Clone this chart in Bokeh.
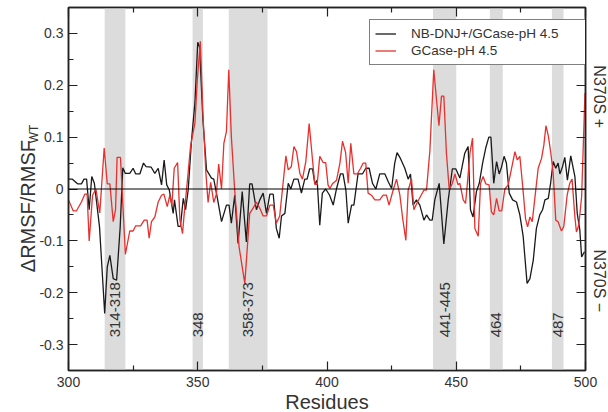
import math
from bokeh.plotting import figure
from bokeh.models import (Range1d, LinearAxis, FixedTicker, Span, BoxAnnotation,
                          Label, Legend, LegendItem)
from bokeh.core.properties import value
from bokeh.embed import file_html
from bokeh.resources import INLINE

# ---------------- data ----------------
res_black = [300, 301.5, 303.5, 305, 306, 307, 308, 309, 310, 312, 314, 315, 316, 317.3, 318.6, 320,
             321, 322, 323.7, 325, 326, 327.6, 329, 330, 332, 333.4, 334.7, 336, 337, 338, 339, 340.5,
             341, 342.4, 343.3, 344.4, 345.3, 346.3, 347.6, 348.9, 350, 350.7, 352, 353.4, 355.3, 356.2,
             357.5, 359.2, 361.1, 362.1, 363, 364.3, 365.6, 367.2, 368.8, 370.1, 371, 372.7, 374, 375.3,
             376.6, 377.9, 379.2, 380.4, 381.5, 382.4, 383.7, 385, 386, 387.2, 388.8, 390.1, 391.4, 392.3,
             393.3, 394.4, 395.3, 396.2, 397.2, 398.2, 399.5, 401, 402.4, 403.7, 405.2, 406.2, 407.3, 408.2,
             409.5, 410.4, 412, 413.7, 415, 416.3, 417.6, 418.9, 420.4, 422.4, 423.7, 425, 426.2, 427.1,
             428.4, 430.1, 431.4, 432.3, 433.3, 434.6, 435.9, 437.5, 438.5, 439.8, 440.7, 441.7, 443.4,
             445.2, 446.9, 448.5, 449.8, 451.4, 453.3, 454.6, 455.5, 456.5, 457.8, 458.9, 460.2, 461.4,
             462.6, 463.4, 464.5, 465.6, 466.6, 467.5, 468.5, 469.4, 470.5, 471.8, 473.3, 474.6, 475.9,
             477.4, 478.5, 479.8, 481, 482.3, 483.4, 484.3, 485.6, 486.5, 487.5, 488.5, 489.4, 490.1,
             491.1, 492, 493, 494.3, 495.9, 496.8, 497.8, 498.5, 499.6]
rmsf_black = [0.019, 0.019, 0.01, 0.01, 0.019, 0.019, -0.04, 0.024, 0.011, -0.073, -0.24, -0.15, -0.128,
              -0.173, -0.176, -0.073, 0.041, 0.03, 0.03, 0.04, 0.029, 0.029, 0.05, 0.043, 0.042, 0.03, 0.04,
              0.008, 0.056, 0.008, -0.002, -0.047, -0.021, -0.072, -0.072, -0.018, -0.04, -0.002, 0.095,
              0.166, 0.283, 0.274, 0.133, 0.037, 0.021, 0.019, -0.015, -0.063, -0.031, -0.031, -0.066,
              -0.012, -0.105, -0.005, -0.102, 0.01, 0.01, -0.04, -0.021, -0.008, -0.047, -0.01, -0.01,
              -0.076, -0.095, -0.052, -0.047, 0.011, 0.0, 0.019, 0.019, -0.008, 0.019, 0.019, 0.039, 0.039,
              0.01, 0.017, -0.07, -0.008, 0.0, -0.012, -0.031, 0.001, 0.029, 0.029, -0.002, -0.066, -0.031,
              -0.031, 0.029, 0.029, 0.04, 0.04, 0.011, 0.0, 0.029, 0.029, 0.014, 0.001, 0.05, 0.07, 0.059,
              0.04, 0.019, 0.029, -0.031, -0.021, -0.031, -0.06, -0.05, -0.06, -0.06, -0.021, 0.011,
              -0.106, -0.021, 0.039, 0.039, 0.021, 0.069, 0.082, -0.04, -0.054, -0.005, 0.011, 0.05, 0.079,
              0.1, 0.1, 0.011, 0.053, 0.029, 0.042, 0.063, 0.05, -0.008, -0.021, -0.025, -0.05, -0.092,
              -0.182, -0.173, -0.137, -0.076, -0.05, -0.04, -0.021, -0.018, 0.011, 0.053, 0.04, 0.05,
              0.029, 0.043, 0.061, 0.017, 0.064, 0.024, -0.047, -0.079, -0.131, -0.121]

res_red = [300, 301.8, 303.1, 305, 306.3, 307.2, 308, 309.3, 310.6, 312.1, 313.8, 315, 316, 317.3, 318.2,
           318.8, 320.1, 322, 323.7, 325, 326, 327.9, 329.3, 330.4, 331.2, 332.1, 333.4, 334.7, 336, 336.9,
           338.2, 339.2, 340, 340.9, 342.2, 343.1, 344.1, 345, 345.9, 347.2, 348.9, 349.8, 351, 352, 353.1,
           354, 355, 356.2, 357.2, 358.1, 359.2, 360.1, 361.1, 362, 363, 364.3, 366, 368.2, 370.1, 371.4,
           372.7, 374, 375.3, 376.6, 377.9, 379.2, 380.4, 381.7, 382.8, 384.1, 385, 386.2, 387.2, 388.2,
           389.5, 390.5, 391.8, 393.1, 394.4, 395.3, 396.2, 397.2, 398.5, 399.5, 400.4, 401.1, 402.1, 403.7,
           405, 406, 407.2, 408.2, 409.2, 410.4, 411.7, 413, 414, 415, 415.9, 417.2, 418.5, 420.4, 421.7,
           423, 424, 425.6, 426.9, 428.2, 429.2, 430.5, 431.4, 432.7, 433.6, 434.9, 436.2, 437.5, 438.5,
           439.8, 441.3, 443.3, 444.3, 445.2, 446.2, 447.3, 448.5, 449.5, 450.7, 451.4, 452.7, 453.6, 454.2,
           455.3, 456.3, 457.2, 458.5, 459.4, 460.4, 461.4, 462.7, 463.6, 464.5, 465.6, 466.6, 467.6, 468.8,
           470.1, 471.4, 472.7, 473.6, 474.6, 475.6, 476.8, 477.6, 478.5, 479.4, 480.4, 481.7, 483, 483.9,
           484.7, 485.6, 486.6, 487.5, 488.5, 489.4, 490.7, 491.6, 492.9, 493.9, 494.8, 495.9, 496.5, 497.4,
           498.5, 499.8]
rmsf_red = [-0.021, -0.042, -0.042, -0.025, -0.01, -0.01, -0.1, -0.012, 0.0, -0.046, 0.079, 0.01, 0.01,
            -0.063, -0.04, 0.061, 0.061, -0.126, -0.081, -0.081, -0.071, -0.071, -0.06, -0.06, -0.095,
            -0.063, -0.054, -0.025, -0.012, -0.01, -0.034, -0.012, -0.031, 0.04, 0.051, -0.06, -0.086,
            -0.034, 0.011, 0.082, 0.127, 0.208, 0.285, 0.146, 0.034, -0.026, 0.013, -0.026, -0.01, 0.048,
            0.0, 0.088, 0.111, 0.23, 0.101, -0.003, -0.112, -0.182, -0.047, -0.037, -0.025, -0.037, -0.052,
            -0.052, -0.031, -0.031, -0.066, -0.052, 0.001, 0.064, 0.037, 0.043, 0.082, 0.072, 0.03, 0.019,
            0.053, 0.126, 0.056, 0.009, 0.009, 0.063, 0.051, 0.051, 0.008, 0.001, 0.01, 0.017, 0.05, 0.092,
            0.07, 0.011, 0.088, 0.029, 0.029, 0.04, 0.05, 0.05, -0.008, -0.012, -0.021, -0.021, -0.012,
            -0.012, -0.031, -0.002, 0.019, -0.012, -0.054, -0.099, -0.002, 0.019, -0.04, -0.026, -0.014,
            -0.002, -0.002, 0.074, 0.23, 0.122, 0.179, 0.179, 0.069, -0.002, 0.011, 0.029, 0.008, 0.011,
            -0.021, -0.028, 0.005, 0.069, 0.098, -0.076, -0.091, 0.011, 0.024, 0.01, 0.008, -0.044, -0.05,
            -0.018, -0.042, -0.042, 0.0, 0.008, 0.04, 0.072, 0.056, 0.063, 0.011, -0.057, -0.073, -0.054,
            -0.063, -0.018, 0.04, 0.059, 0.085, 0.122, 0.103, 0.069, 0.03, -0.06, -0.063, -0.081, -0.072,
            -0.012, 0.011, 0.019, -0.054, -0.083, -0.07, -0.015, 0.185]

band_start = [314, 348, 362, 441, 463, 487]
band_end = [322, 352, 377, 450, 468, 491.5]
band_labels = ["314-318", "348", "358-373", "441-445", "464", "487"]

series_names = ["NB-DNJ+/GCase-pH 4.5", "GCase-pH 4.5"]

x_ticks = [300, 350, 400, 450, 500]
x_minor_ticks = [325, 375, 425, 475]
y_ticks = [-0.3, -0.2, -0.1, 0.0, 0.1, 0.2, 0.3]
y_tick_labels = ["-0.3", "-0.2", "-0.1", "0", "0.1", "0.2", "0.3"]
y_minor_ticks = [-0.35, -0.25, -0.15, -0.05, 0.05, 0.15, 0.25, 0.35]

FONT = "Liberation Sans"
AXC = "#222222"
TXC = "#333333"

p = figure(frame_width=517, frame_height=363, output_backend="svg", toolbar_location=None,
           x_range=Range1d(300, 500), y_range=Range1d(-0.35, 0.35),
           min_border_left=58, min_border_right=25, min_border_top=7, min_border_bottom=33)
p.grid.visible = False
p.outline_line_color = AXC
p.outline_line_width = 1.5
p.background_fill_color = "white"
p.border_fill_color = "white"

# shaded bands
for s, e in zip(band_start, band_end):
    p.add_layout(BoxAnnotation(left=s, right=e, fill_color="#dcdcdc", fill_alpha=1.0,
                               line_color=None, level="underlay"))

p.add_layout(Span(location=0, dimension="width", line_color="black", line_width=1.2))

r_black = p.line(res_black, rmsf_black, line_color="#1a1a1a", line_width=1.3)
r_red = p.line(res_red, rmsf_red, line_color="#e8302e", line_width=1.3)

# band labels
lab_x = [(s + e) / 2 for s, e in zip(band_start, band_end)]
lab_y = [-0.286] * len(band_labels)
p.text(x=lab_x, y=lab_y, text=band_labels, angle=math.pi / 2, text_align="left",
       text_baseline="middle", text_font=value(FONT), text_font_size="15px", text_color=TXC)


def style_axis(ax, labels=True):
    ax.axis_line_color = AXC
    ax.axis_line_width = 1.5
    ax.major_tick_in = 9
    ax.major_tick_out = 0
    ax.minor_tick_in = 5
    ax.minor_tick_out = 0
    ax.major_tick_line_color = AXC
    ax.minor_tick_line_color = AXC
    ax.major_tick_line_width = 1.2
    ax.minor_tick_line_width = 1.2
    if labels:
        ax.major_label_text_font = FONT
        ax.major_label_text_font_size = "14px"
        ax.major_label_text_color = TXC
    else:
        ax.major_label_text_font_size = "0px"
        ax.major_label_text_color = None
        ax.major_label_standoff = 0


xt = FixedTicker(ticks=x_ticks, minor_ticks=x_minor_ticks)
yt = FixedTicker(ticks=y_ticks, minor_ticks=y_minor_ticks)

xa = p.xaxis[0]
xa.ticker = xt
style_axis(xa)
xa.major_label_standoff = 6
xa.axis_label = "Residues"
xa.axis_label_text_font = FONT
xa.axis_label_text_font_size = "20px"
xa.axis_label_text_font_style = "normal"
xa.axis_label_text_color = TXC
xa.axis_label_standoff = 1

ya = p.yaxis[0]
ya.ticker = yt
style_axis(ya)
ya.major_label_standoff = 5
ya.major_label_overrides = dict(zip(y_ticks, y_tick_labels))

top = LinearAxis(ticker=FixedTicker(ticks=x_ticks, minor_ticks=x_minor_ticks))
style_axis(top, labels=False)
p.add_layout(top, "above")
right = LinearAxis(ticker=FixedTicker(ticks=y_ticks, minor_ticks=y_minor_ticks))
style_axis(right, labels=False)
p.add_layout(right, "right")

# y-axis label with subscript (side panel => not clipped to the frame)
p.add_layout(Label(x=284.4, y=-0.033, text="ΔRMSF/RMSF", angle=math.pi / 2, text_align="center",
                   text_baseline="middle", text_font=FONT, text_font_size="20px", text_color=TXC), "left")
p.add_layout(Label(x=286.6, y=0.106, text="WT", angle=math.pi / 2, text_align="center",
                   text_baseline="middle", text_font=FONT, text_font_size="12px", text_color=TXC), "left")

# right-side labels
p.add_layout(Label(x=505.5, y=0.178, text="N370S +", angle=-math.pi / 2, text_align="center",
                   text_baseline="middle", text_font=FONT, text_font_size="16px", text_color=TXC), "right")
p.add_layout(Label(x=505.5, y=-0.177, text="N370S −", angle=-math.pi / 2, text_align="center",
                   text_baseline="middle", text_font=FONT, text_font_size="16px", text_color=TXC), "right")

legend = Legend(items=[LegendItem(label=series_names[0], renderers=[r_black]),
                       LegendItem(label=series_names[1], renderers=[r_red])],
                location=(301, 305), margin=0, padding=5, spacing=0,
                glyph_width=21, glyph_height=17, label_height=17, label_standoff=15,
                label_width=176, label_text_font=FONT, label_text_font_size="13.5px",
                label_text_color=TXC, border_line_color="black", border_line_width=1.2,
                background_fill_color="white", background_fill_alpha=1.0)
p.add_layout(legend, "center")

open("out.html", "w").write(file_html(p, INLINE))
